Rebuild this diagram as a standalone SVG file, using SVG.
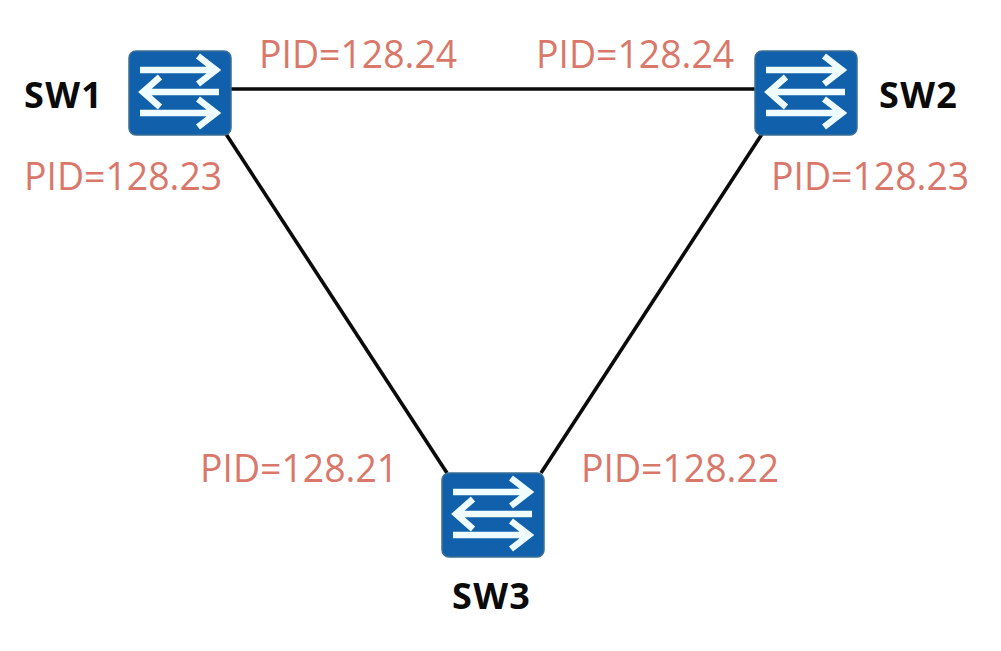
<svg xmlns="http://www.w3.org/2000/svg" width="1001" height="651" viewBox="0 0 1001 651">
<defs>
<style>
.link{stroke:#0a0a0a;stroke-width:3.6;fill:none}
.body{fill:#1060ab;stroke:#3d6f93;stroke-width:1.5}
.arr{stroke:#eefcff;stroke-width:6.5;fill:none}
.pid{font-family:"Open Sans","Noto Sans",sans-serif;font-size:37.4px;fill:#d9786a}
.name{font-family:"Open Sans","Noto Sans",sans-serif;font-size:36px;font-weight:700;letter-spacing:1.3px;fill:#0a0a0a}
</style>
<g id="sw">
<rect class="body" x="0" y="0" width="102" height="84" rx="7"/>
<path class="arr" d="M11 19H86M69 5L87 19L69 33"/>
<path class="arr" d="M90 41H16M31 26L14 41L31 56"/>
<path class="arr" d="M11 62H86M69 48L87 62L69 76"/>
</g>
</defs>
<rect width="1001" height="651" fill="#fff"/>
<g id="connectors">
<line class="link" x1="231" y1="89" x2="755" y2="89"/>
<line class="link" x1="226" y1="134" x2="447" y2="473"/>
<line class="link" x1="762" y1="134" x2="541" y2="473"/>
</g>
<g id="SW1"><use href="#sw" x="129" y="51"/><text class="name" x="24" y="108">SW1</text></g>
<g id="SW2"><use href="#sw" x="755" y="51"/><text class="name" x="879" y="108">SW2</text></g>
<g id="SW3"><use href="#sw" x="442" y="473"/><text class="name" x="452" y="609">SW3</text></g>
<g id="labels">
<text class="pid" x="259" y="68">PID=128.24</text>
<text class="pid" x="536" y="68">PID=128.24</text>
<text class="pid" x="24" y="190">PID=128.23</text>
<text class="pid" x="771" y="190">PID=128.23</text>
<text class="pid" x="200" y="482">PID=128.21</text>
<text class="pid" x="581" y="482">PID=128.22</text>
</g>
</svg>
